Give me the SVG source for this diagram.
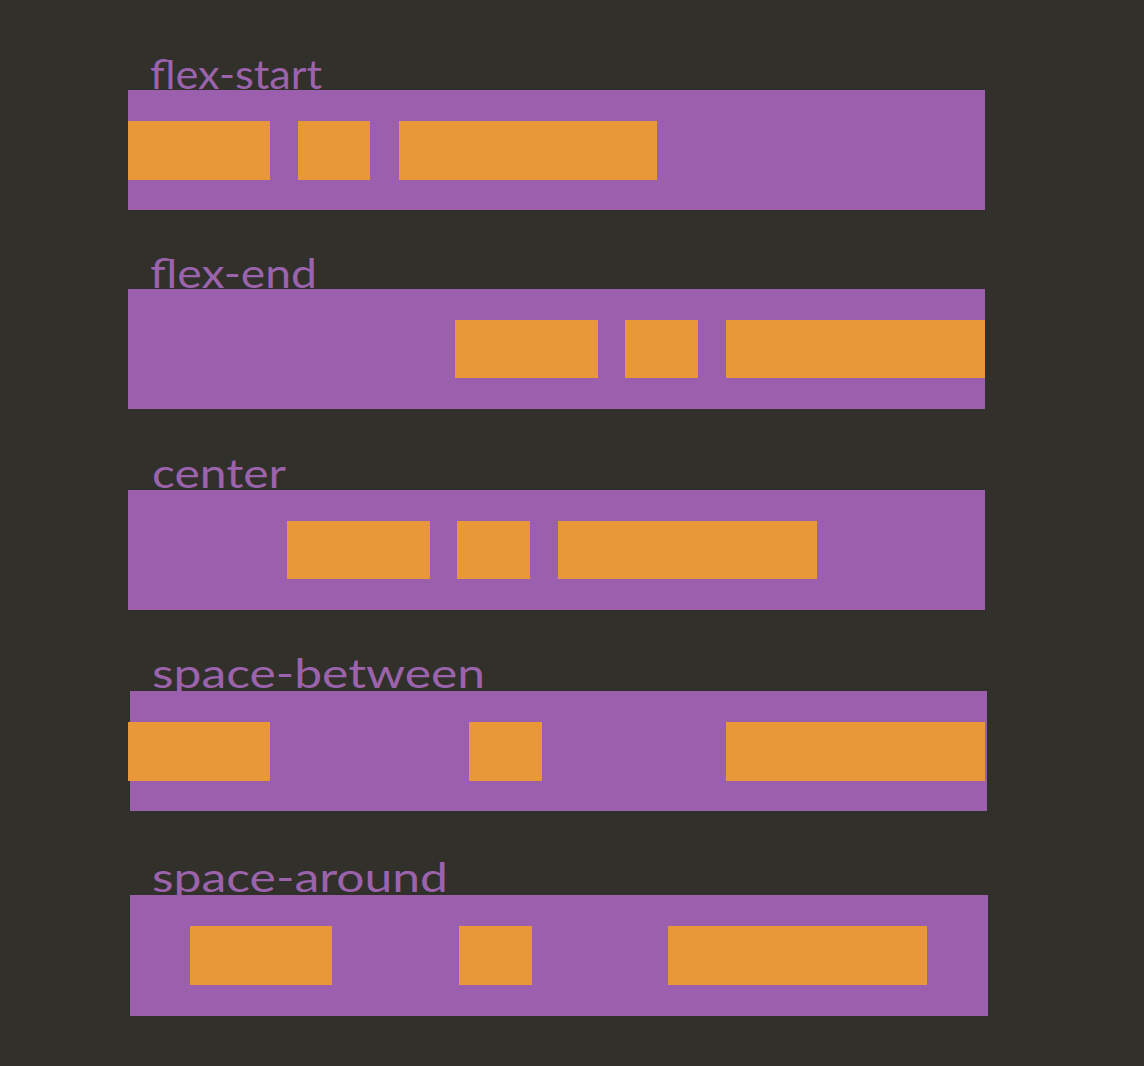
<svg xmlns="http://www.w3.org/2000/svg" width="1144" height="1066" viewBox="0 0 1144 1066">
<style>
.bg{fill:#31302b}
.box{fill:#9b5fae}
.item{fill:#e89838}
.lbl{fill:#9c63ad;font-family:"Lato","Open Sans","Liberation Sans",sans-serif;font-size:40px}
</style>
<rect class="bg" x="0" y="0" width="1144" height="1066"/>
<g id="flex-start">
<text class="lbl" x="150" y="89" textLength="172" lengthAdjust="spacingAndGlyphs">flex-start</text>
<rect class="box" x="128" y="90" width="857" height="120"/>
<rect class="item" x="128" y="121" width="142" height="59"/>
<rect class="item" x="298" y="121" width="72" height="59"/>
<rect class="item" x="399" y="121" width="258" height="59"/>
</g>
<g id="flex-end">
<text class="lbl" x="150" y="288" textLength="167" lengthAdjust="spacingAndGlyphs">flex-end</text>
<rect class="box" x="128" y="289" width="857" height="120"/>
<rect class="item" x="455" y="320" width="143" height="58"/>
<rect class="item" x="625" y="320" width="73" height="58"/>
<rect class="item" x="726" y="320" width="259" height="58"/>
</g>
<g id="center">
<text class="lbl" x="152" y="488" textLength="134" lengthAdjust="spacingAndGlyphs">center</text>
<rect class="box" x="128" y="490" width="857" height="120"/>
<rect class="item" x="287" y="521" width="143" height="58"/>
<rect class="item" x="457" y="521" width="73" height="58"/>
<rect class="item" x="558" y="521" width="259" height="58"/>
</g>
<g id="space-between">
<text class="lbl" x="152" y="688" textLength="333" lengthAdjust="spacingAndGlyphs">space-between</text>
<rect class="box" x="130" y="691" width="857" height="120"/>
<rect class="item" x="128" y="722" width="142" height="59"/>
<rect class="item" x="469" y="722" width="73" height="59"/>
<rect class="item" x="726" y="722" width="259" height="59"/>
</g>
<g id="space-around">
<text class="lbl" x="152" y="892" textLength="296" lengthAdjust="spacingAndGlyphs">space-around</text>
<rect class="box" x="130" y="895" width="858" height="121"/>
<rect class="item" x="190" y="926" width="142" height="59"/>
<rect class="item" x="459" y="926" width="73" height="59"/>
<rect class="item" x="668" y="926" width="259" height="59"/>
</g>
<g id="connectors"/>
</svg>
